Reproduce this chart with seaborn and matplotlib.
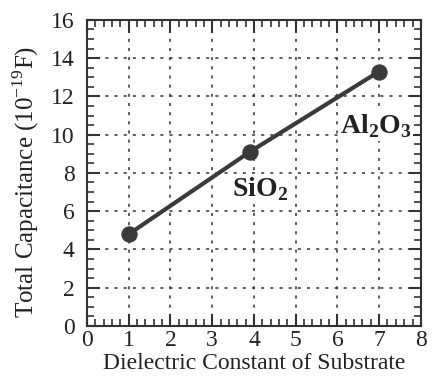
import numpy as np
import pandas as pd
import matplotlib
matplotlib.use('Agg')
import matplotlib.pyplot as plt
import seaborn as sns
from matplotlib.ticker import MultipleLocator

# data
dielectric = [1.0, 3.9, 7.0]
capacitance = [4.8, 9.1, 13.3]
labels = ['', 'SiO$_\\mathbf{2}$', 'Al$_\\mathbf{2}$O$_\\mathbf{3}$']

df = pd.DataFrame({'k': dielectric, 'C': capacitance})

sns.set_style('ticks')
plt.rcParams['font.family'] = ['Liberation Serif', 'DejaVu Serif']
plt.rcParams['mathtext.fontset'] = 'custom'
plt.rcParams['mathtext.rm'] = 'Liberation Serif'
plt.rcParams['mathtext.bf'] = 'Liberation Serif:bold'

fig = plt.figure(figsize=(4.33, 3.89), dpi=100)
ax = fig.add_axes([0.201, 0.162, 0.771, 0.787])

sns.lineplot(data=df, x='k', y='C', ax=ax, color='#3a3a3a', linewidth=3,
             marker='o', markersize=11, markeredgecolor='#3a3a3a', zorder=3)

ax.set_xlim(0, 8)
ax.set_ylim(0, 16)
ax.xaxis.set_major_locator(MultipleLocator(1))
ax.xaxis.set_minor_locator(MultipleLocator(0.2))
ax.yaxis.set_major_locator(MultipleLocator(2))
ax.yaxis.set_minor_locator(MultipleLocator(0.5))
ax.tick_params(which='both', direction='in', top=True, right=True, colors='#333333',
               labelsize=17, labelcolor='#222222')
ax.tick_params(axis='x', pad=3)
ax.tick_params(axis='y', pad=9)
ax.tick_params(which='major', length=9, width=1.5)
ax.tick_params(which='minor', length=5, width=1.2)
for s in ax.spines.values():
    s.set_linewidth(1.5)
    s.set_color('#333333')
ax.grid(True, which='major', linestyle=(0, (2, 4)), color='#333333', linewidth=1.1)

ax.set_xlabel('Dielectric Constant of Substrate', fontsize=17, color='#222222', labelpad=1)
ax.set_ylabel('Total Capacitance (10$^{-19}$F)', fontsize=18, color='#222222')
ax.yaxis.set_label_coords(-0.138, 0.47)

box = dict(facecolor='white', edgecolor='none', pad=1)
ax.text(4.15, 7.15, labels[1], fontsize=20, fontweight='bold', ha='center', va='center',
        color='#222222', bbox=box, zorder=2)
ax.text(6.92, 10.45, labels[2], fontsize=20, fontweight='bold', ha='center', va='center',
        color='#222222', bbox=box, zorder=2)

fig.savefig('out.png', dpi=100)
